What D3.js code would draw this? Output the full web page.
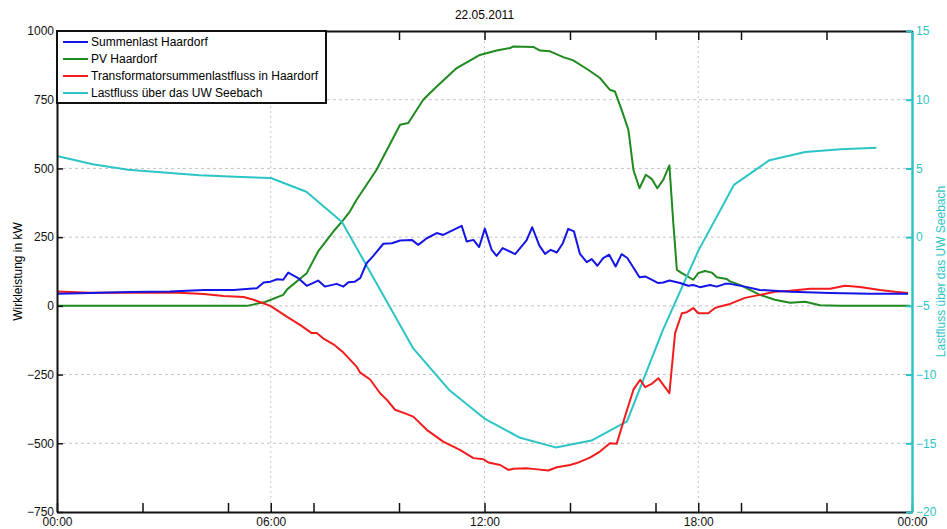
<!DOCTYPE html>
<html>
<head>
<meta charset="utf-8">
<script src="https://cdn.jsdelivr.net/npm/d3@7"></script>
<style>
  body { margin: 0; background: #fff; }
  svg { font-family: "Liberation Sans", Arial, sans-serif; }
  .hgrid { stroke: #c4c4c4; stroke-width: 1; stroke-dasharray: 3,3; }
  .vgrid { stroke: #c4c4c4; stroke-width: 1; stroke-dasharray: 2,3; }
  .series { fill: none; stroke-width: 2; stroke-linejoin: round; }
</style>
</head>
<body>
<div id="chart"></div>
<script>
// chart data (time in hours of 22.05.2011)
var chartTitle = "22.05.2011";
var leftTicks = [-750, -500, -250, 0, 250, 500, 750, 1000];
var rightTicks = [-20, -15, -10, -5, 0, 5, 10, 15];
var tickHours = [0, 2.4, 4.8, 6, 7.2, 9.6, 12, 14.4, 16.8, 18, 19.2, 21.6, 24];
var labelHours = [0, 6, 12, 18, 24];
var seriesNames = ["Summenlast Haardorf", "PV Haardorf", "Transformatorsummenlastfluss in Haardorf", "Lastfluss über das UW Seebach"];

// Summenlast Haardorf [h, kW]
var summenlast = [[0,44],[0.93,47],[2.05,50],[3.17,52],[4.12,58],[4.96,58],[5.61,64],[5.8,85],[5.99,88],[6.18,97],[6.35,95],
  [6.49,121],[6.77,101],[7.01,73],[7.33,92],[7.52,70],[7.85,80],[8.04,70],[8.18,86],[8.36,88],[8.51,101],[8.69,155],[8.88,182],
  [9.16,226],[9.4,228],[9.63,238],[9.96,240],[10.14,222],[10.38,246],[10.66,265],[10.84,258],[11.36,291],[11.5,234],[11.69,240],
  [11.85,214],[12.01,281],[12.2,204],[12.34,182],[12.51,210],[12.86,188],[13.18,238],[13.34,286],[13.54,219],[13.7,189],
  [13.86,204],[14.03,194],[14.2,228],[14.35,280],[14.51,271],[14.68,189],[14.87,159],[15.01,170],[15.17,146],[15.33,174],
  [15.5,186],[15.68,143],[15.85,188],[16.01,174],[16.35,104],[16.51,107],[16.88,83],[17.02,85],[17.19,92],[17.49,83],[17.72,73],
  [17.86,76],[18.05,68],[18.33,76],[18.52,70],[18.75,80],[18.89,80],[19.31,70],[19.73,58],[20.58,51],[21.7,47],[22.82,44],[23.89,44]];

// PV Haardorf [h, kW]
var pv = [[0,0],[5.33,0],[5.84,14],[6.35,40],[6.46,60],[7.01,119],[7.33,198],[7.8,277],[8.04,313],[8.22,343],[8.41,386],[8.97,495],
  [9.63,659],[9.86,665],[10.28,750],[10.66,798],[11.22,865],[11.87,913],[12.34,929],[12.72,938],[12.81,944],[13.37,942],[13.56,929],
  [13.84,926],[14.21,905],[14.49,893],[14.91,859],[15.24,829],[15.52,786],[15.66,780],[15.85,713],[16.04,640],[16.18,495],[16.35,428],
  [16.53,477],[16.7,461],[16.85,428],[17.02,459],[17.19,511],[17.3,301],[17.4,131],[17.54,119],[17.86,95],[18,119],[18.19,127],
  [18.38,121],[18.52,104],[18.8,98],[18.89,89],[19.17,76],[19.73,40],[20.15,22],[20.58,11],[21,15],[21.42,2],[21.98,0],[23.94,0]];

// Transformatorsummenlastfluss in Haardorf [h, kW]
var trafo = [[0,52],[0.93,48],[3.28,49],[4.12,43],[4.68,36],[5.24,32],[5.52,22],[5.65,16],[5.99,0],[6.45,-39],[6.82,-69],[7.15,-99],
  [7.29,-99],[7.48,-119],[7.76,-140],[8.04,-170],[8.41,-221],[8.51,-243],[8.79,-268],[9.07,-318],[9.26,-342],[9.49,-378],[9.77,-391],
  [10,-403],[10.38,-451],[10.84,-494],[11.31,-524],[11.69,-554],[11.97,-558],[12.11,-570],[12.44,-579],[12.67,-597],[12.81,-593],
  [13.18,-591],[13.42,-594],[13.79,-599],[14.03,-587],[14.4,-579],[14.59,-572],[14.96,-552],[15.24,-530],[15.52,-500],[15.71,-502],
  [15.9,-421],[16.18,-305],[16.37,-269],[16.51,-296],[16.69,-284],[16.88,-263],[17.19,-318],[17.35,-99],[17.54,-27],[17.68,-23],
  [17.86,-8],[18,-27],[18.28,-27],[18.47,-8],[18.61,-2],[18.89,7],[19.31,29],[19.73,40],[20.15,51],[20.58,55],[21.14,62],[21.7,62],
  [22.12,73],[22.54,69],[23.1,58],[23.52,51],[23.89,47]];

// Lastfluss über das UW Seebach, hourly [MVA]
var seebachHours = [0,1,2,3,4,5,6,7,8,9,10,11,12,13,14,15,16,17,18,19,20,21,22,23];
var seebach = [5.9,5.3,4.9,4.7,4.5,4.4,4.3,3.3,1.1,-3.5,-8.1,-11.1,-13.2,-14.6,-15.3,-14.8,-13.4,-6.8,-1.0,3.8,5.6,6.2,6.4,6.5];

var colors = ["#1414e6", "#1f8a1f", "#f21c1c", "#2cc4c4"];

// dimensions
var width = 947, height = 529;
var margin = {top: 31, right: 35, bottom: 17, left: 57};
var plotW = width - margin.left - margin.right,
    plotH = height - margin.top - margin.bottom;

var svg = d3.select("#chart")
  .append("svg")
    .attr("width", width)
    .attr("height", height);

var g = svg.append("g")
    .attr("transform", "translate(" + margin.left + "," + margin.top + ")");

// scales
var x = d3.scaleLinear().domain([0, 24]).range([0, plotW]);
var yLeft = d3.scaleLinear().domain([-750, 1000]).range([plotH, 0]);
var yRight = d3.scaleLinear().domain([-20, 15]).range([plotH, 0]);

function hourLabel(h) {
  var hh = h % 24;
  return (hh < 10 ? "0" : "") + hh + ":00";
}

//////// grid ////////
var grid = g.append("g");
grid.selectAll(".hgrid")
  .data(leftTicks.filter(function(d){ return d > -750 && d < 1000; }))
  .enter().append("line")
    .attr("class", "hgrid")
    .attr("x1", 0).attr("x2", plotW)
    .attr("y1", function(d){ return yLeft(d); })
    .attr("y2", function(d){ return yLeft(d); });
grid.selectAll(".vgrid")
  .data(labelHours.filter(function(d){ return d > 0 && d < 24; }))
  .enter().append("line")
    .attr("class", "vgrid")
    .attr("x1", function(d){ return x(d); })
    .attr("x2", function(d){ return x(d); })
    .attr("y1", 0).attr("y2", plotH);

//////// lines ////////
var lineLeft = d3.line()
  .x(function(d){ return x(d[0]); })
  .y(function(d){ return yLeft(d[1]); });

var seebachPts = seebachHours.map(function(h, i){ return [h, seebach[i]]; });
var lineRight = d3.line()
  .x(function(d){ return x(d[0]); })
  .y(function(d){ return yRight(d[1]); });

g.append("path").datum(pv).attr("class", "series").attr("d", lineLeft).style("stroke", colors[1]);
g.append("path").datum(seebachPts).attr("class", "series").attr("d", lineRight).style("stroke", colors[3]);
g.append("path").datum(trafo).attr("class", "series").attr("d", lineLeft).style("stroke", colors[2]);
g.append("path").datum(summenlast).attr("class", "series").attr("d", lineLeft).style("stroke", colors[0]);

//////// axes ////////
var leftAxis = g.append("g")
  .call(d3.axisLeft(yLeft).tickValues(leftTicks).tickFormat(d3.format("d"))
    .tickSizeInner(-6).tickSizeOuter(0).tickPadding(3));
var bottomAxis = g.append("g")
  .attr("transform", "translate(0," + plotH + ")")
  .call(d3.axisBottom(x).tickValues(tickHours).tickSizeInner(-9).tickSizeOuter(0).tickPadding(5)
    .tickFormat(function(d){ return labelHours.indexOf(d) >= 0 ? hourLabel(d) : ""; }));
var topAxis = g.append("g")
  .call(d3.axisTop(x).tickValues(tickHours).tickSizeInner(-9).tickSizeOuter(0).tickFormat(""));
var rightAxis = g.append("g")
  .attr("transform", "translate(" + plotW + ",0)")
  .call(d3.axisRight(yRight).tickValues(rightTicks).tickSizeInner(-6).tickSizeOuter(0).tickPadding(4));

[leftAxis, bottomAxis, topAxis].forEach(function(a){
  a.select(".domain").style("stroke", "#111").style("stroke-width", 2);
  a.selectAll(".tick line").style("stroke", "#111").style("stroke-width", 1.5);
  a.selectAll("text").style("font-size", "12px").style("fill", "#111").style("font-family", "Liberation Sans, Arial, sans-serif");
});
rightAxis.select(".domain").style("stroke", colors[3]).style("stroke-width", 2.5);
rightAxis.selectAll(".tick line").style("stroke", colors[3]).style("stroke-width", 2);
rightAxis.selectAll("text").style("font-size", "12px").style("fill", colors[3]).style("font-family", "Liberation Sans, Arial, sans-serif");

//////// texts ////////
svg.append("text")
  .attr("x", margin.left + plotW / 2)
  .attr("y", 19)
  .attr("text-anchor", "middle")
  .style("font-size", "12px")
  .text(chartTitle);

svg.append("text")
  .attr("transform", "translate(22," + (margin.top + plotH / 2) + ") rotate(-90)")
  .attr("text-anchor", "middle")
  .style("font-size", "12px")
  .text("Wirkleistung in kW");

svg.append("text")
  .attr("transform", "translate(945," + (margin.top + plotH / 2) + ") rotate(-90)")
  .attr("text-anchor", "middle")
  .style("font-size", "12px")
  .style("fill", colors[3])
  .text("Lastfluss über das UW Seebach");

//////// legend ////////
var legend = g.append("g");
legend.append("rect")
  .attr("x", 0).attr("y", 0)
  .attr("width", 269).attr("height", 72)
  .style("fill", "#fff")
  .style("stroke", "#111")
  .style("stroke-width", 2);

var entries = legend.selectAll(".entry")
  .data(seriesNames)
  .enter().append("g")
    .attr("transform", function(d, i){ return "translate(0," + (11 + i * 17) + ")"; });
entries.append("line")
  .attr("x1", 6).attr("x2", 31)
  .attr("y1", 0).attr("y2", 0)
  .style("stroke", function(d, i){ return colors[i]; })
  .style("stroke-width", 2);
entries.append("text")
  .attr("x", 34)
  .attr("dy", "0.35em")
  .style("font-size", "12px")
  .text(function(d){ return d; });
</script>
</body>
</html>
